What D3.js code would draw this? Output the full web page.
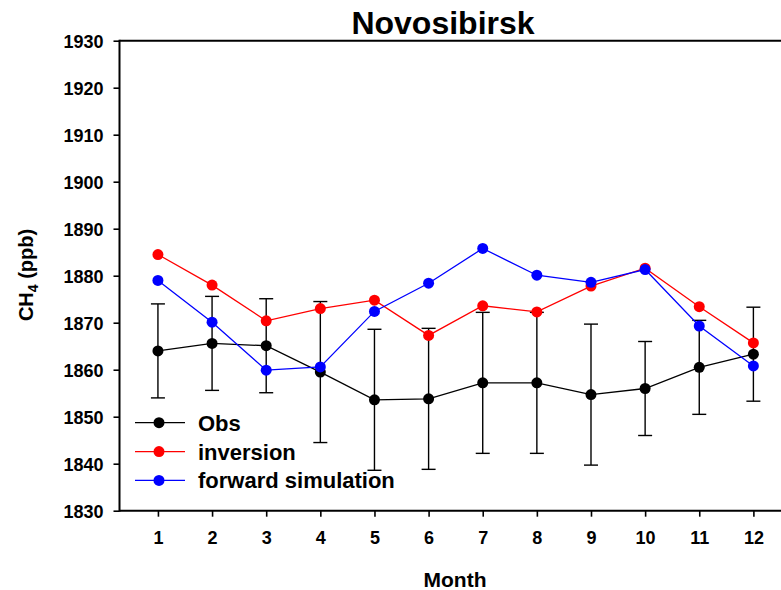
<!DOCTYPE html>
<html>
<head>
<meta charset="utf-8">
<script src="https://cdn.jsdelivr.net/npm/d3@7"></script>
<style>
  html, body { margin: 0; padding: 0; background: #fff; }
  svg { display: block; font-family: "Liberation Sans", Arial, sans-serif; }
</style>
</head>
<body>
<svg id="chart" width="781" height="590"></svg>
<script>
// Monthly CH4 at Novosibirsk (ppb)
const months = [1, 2, 3, 4, 5, 6, 7, 8, 9, 10, 11, 12];
const obs = [1864.0, 1865.6, 1865.1, 1859.5, 1853.6, 1853.8, 1857.2, 1857.2, 1854.7, 1856.0, 1860.5, 1863.3];
const obsErr = [10, 10, 10, 15, 15, 15, 15, 15, 15, 10, 10, 10];
const inversion = [1884.5, 1878.0, 1870.4, 1873.0, 1874.8, 1867.3, 1873.6, 1872.3, 1877.8, 1881.6, 1873.4, 1865.7];
const forward = [1879.0, 1870.1, 1859.9, 1860.6, 1872.4, 1878.4, 1885.8, 1880.1, 1878.6, 1881.3, 1869.3, 1860.8];
const yTicks = [1830, 1840, 1850, 1860, 1870, 1880, 1890, 1900, 1910, 1920, 1930];

const svg = d3.select("#chart");
const plotLeft = 119.5, plotTop = 40.7, plotBottom = 510.7, plotRight = 781;

const x = d3.scaleLinear().domain([0.29, 12.51]).range([plotLeft, plotRight]);
const y = d3.scaleLinear().domain([1830, 1930]).range([plotBottom, plotTop]);

// Axes
const yAxis = d3.axisLeft(y).tickValues(yTicks).tickSize(6).tickPadding(10).tickFormat(d3.format("d"));
const gy = svg.append("g").attr("transform", `translate(${plotLeft},0)`).call(yAxis);
gy.select(".domain").remove();
gy.selectAll(".tick line").attr("stroke", "#000").attr("stroke-width", 1.6);
gy.selectAll(".tick text").attr("font-size", 18).attr("font-weight", "bold").attr("fill", "#000").attr("dy", "0.36em");

const xAxis = d3.axisBottom(x).tickValues(months).tickSize(6).tickFormat(d3.format("d"));
const gx = svg.append("g").attr("transform", `translate(0,${plotBottom})`).call(xAxis);
gx.select(".domain").remove();
gx.selectAll(".tick line").attr("stroke", "#000").attr("stroke-width", 1.6);
gx.selectAll(".tick text").attr("font-size", 18).attr("font-weight", "bold").attr("fill", "#000")
  .attr("y", 33.5).attr("dy", null);

// Frame lines
svg.append("line").attr("x1", plotLeft).attr("x2", plotRight).attr("y1", plotTop).attr("y2", plotTop)
  .attr("stroke", "#000").attr("stroke-width", 2);
svg.append("line").attr("x1", plotLeft).attr("x2", plotRight).attr("y1", plotBottom).attr("y2", plotBottom)
  .attr("stroke", "#000").attr("stroke-width", 2);
svg.append("line").attr("x1", plotLeft).attr("x2", plotLeft).attr("y1", plotTop - 1).attr("y2", plotBottom + 1)
  .attr("stroke", "#000").attr("stroke-width", 2);

// Error bars on observations
const errG = svg.append("g").attr("stroke", "#000").attr("stroke-width", 1.4);
months.forEach((m, i) => {
  const cx = x(m), hi = y(obs[i] + obsErr[i]), lo = y(obs[i] - obsErr[i]);
  errG.append("line").attr("x1", cx).attr("x2", cx).attr("y1", hi).attr("y2", lo);
  errG.append("line").attr("x1", cx - 7).attr("x2", cx + 7).attr("y1", hi).attr("y2", hi);
  errG.append("line").attr("x1", cx - 7).attr("x2", cx + 7).attr("y1", lo).attr("y2", lo);
});

const series = [
  { name: "Obs", values: obs, color: "#000000" },
  { name: "inversion", values: inversion, color: "#ff0000" },
  { name: "forward simulation", values: forward, color: "#0000ff" }
];

const line = d3.line().x((d, i) => x(months[i])).y(d => y(d));
series.forEach(s => {
  svg.append("path").datum(s.values).attr("d", line)
    .attr("fill", "none").attr("stroke", s.color).attr("stroke-width", 1.3);
  svg.append("g").selectAll("circle").data(s.values).join("circle")
    .attr("cx", (d, i) => x(months[i])).attr("cy", d => y(d))
    .attr("r", 5.5).attr("fill", s.color);
});

// Legend
const legendRows = [422.7, 451.6, 480.4];
series.forEach((s, i) => {
  const ly = legendRows[i];
  svg.append("line").attr("x1", 135).attr("x2", 185).attr("y1", ly).attr("y2", ly)
    .attr("stroke", s.color).attr("stroke-width", 1.3);
  svg.append("circle").attr("cx", 159).attr("cy", ly).attr("r", 5.5).attr("fill", s.color);
  svg.append("text").attr("x", 198).attr("y", ly + 8).text(s.name)
    .attr("font-size", 22).attr("font-weight", "bold").attr("fill", "#000");
});

// Titles
svg.append("text").attr("x", 443).attr("y", 33.5).attr("text-anchor", "middle")
  .attr("font-size", 32).attr("font-weight", "bold").text("Novosibirsk");
svg.append("text").attr("x", 455).attr("y", 586.5).attr("text-anchor", "middle")
  .attr("font-size", 21).attr("font-weight", "bold").text("Month");

const yl = svg.append("text").attr("transform", "translate(33,275) rotate(-90)")
  .attr("text-anchor", "middle").attr("font-size", 20).attr("font-weight", "bold");
yl.append("tspan").text("CH");
yl.append("tspan").attr("font-size", 14).attr("dy", 5).text("4");
yl.append("tspan").attr("dy", -5).text(" (ppb)");
</script>
</body>
</html>
